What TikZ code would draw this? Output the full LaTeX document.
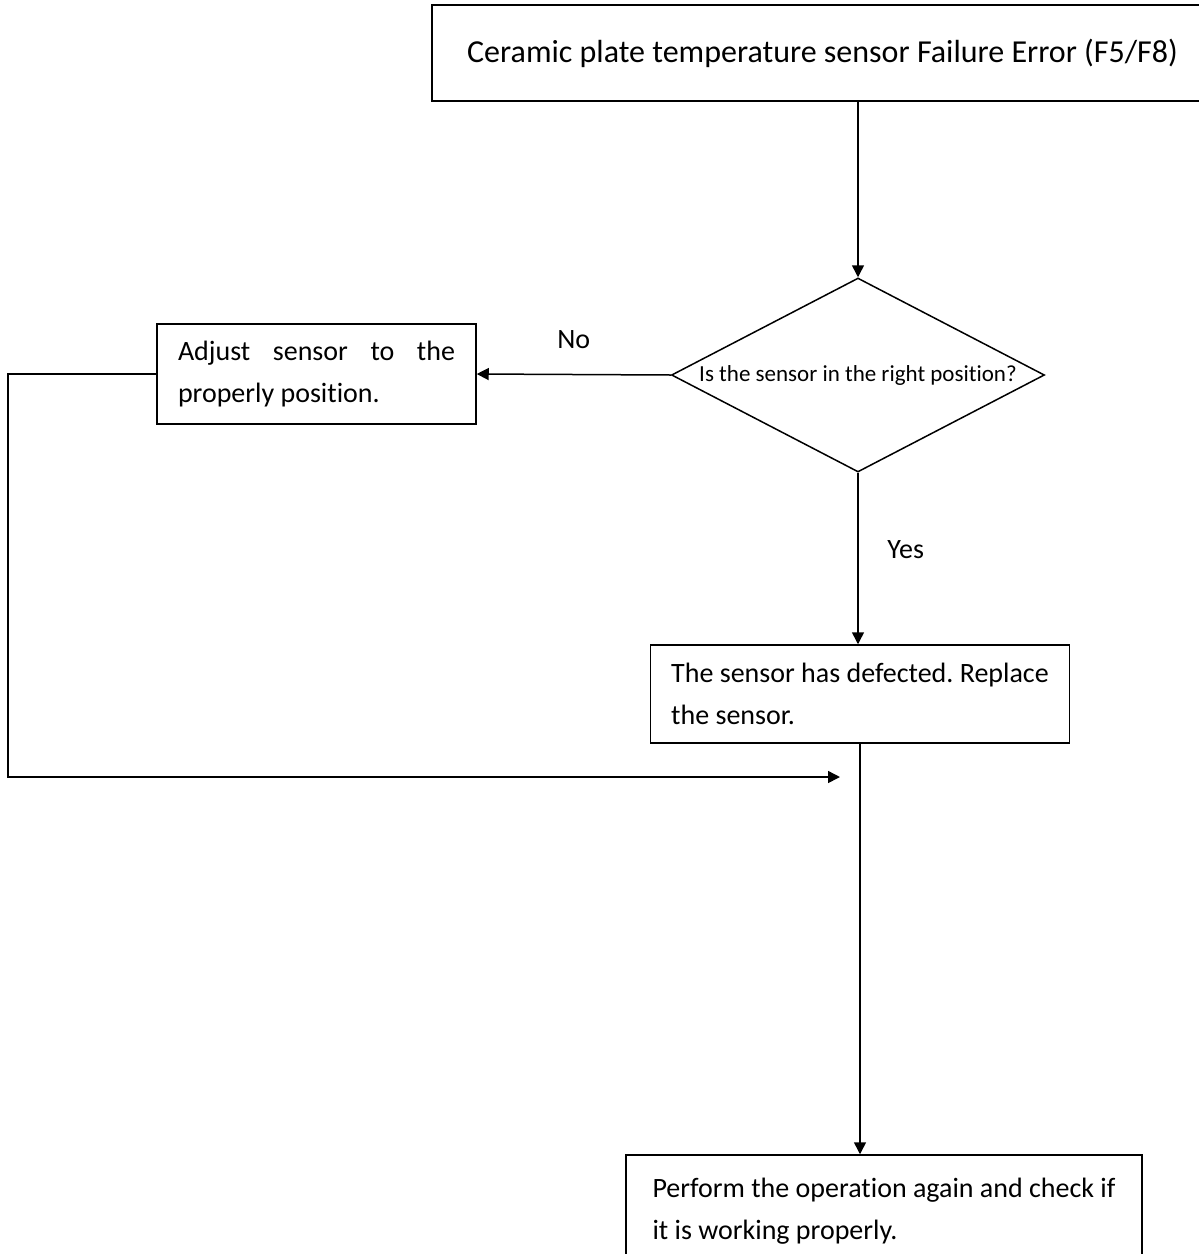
\documentclass[tikz,border=0pt]{standalone}
\usepackage{fontspec}
\setmainfont{Carlito}[RawFeature={-liga;-clig;-calt;-dlig}]
\usetikzlibrary{arrows.meta,positioning,shapes.geometric}
\hyphenpenalty=10000
\exhyphenpenalty=10000
\frenchspacing

\begin{document}
\begin{tikzpicture}[
  x=0.5pt, y=-0.5pt,
  line width=0.75pt,
  errbox/.style={rectangle, draw, inner sep=0pt, minimum width=390.5pt, minimum height=48pt, font=\fontsize{16}{19}\selectfont},
  actbox/.style={rectangle, draw, inner sep=0pt, align=left, font=\fontsize{14}{21}\selectfont},
  decision/.style={diamond, draw, inner sep=0pt, aspect=1.92, minimum width=186.5pt, minimum height=97pt, font=\fontsize{11.5}{13}\selectfont},
  arrow/.style={-{Triangle[length=6pt,width=6pt]}},
  lbl/.style={font=\fontsize{14}{16}\selectfont}
]
\useasboundingbox (0,0) rectangle (1199,1254);

% boxes
\node[errbox] (err) at (822.5,53) {Ceramic plate temperature sensor Failure Error (F5/F8)};
\node[decision] (pos) at (858,375) {Is the sensor in the right position?};
\node[actbox, minimum width=159.5pt, minimum height=50pt, text width=138.5pt, align=justify] (adj) at (316.5,374) {Adjust sensor to the properly position.};
\node[actbox, minimum width=209.5pt, minimum height=49pt] (rep) at (860,694) {The sensor has defected. Replace\\the sensor.};
\node[actbox, minimum width=258pt, minimum height=56pt] (chk) at (884,1211) {Perform the operation again and check if\\it is working properly.};
\coordinate (lft) at (8,374);
\coordinate (back) at (840,777);

% arrows
\draw[arrow] (pos.north |- err.south) -- (pos.north);
\draw[arrow] (pos.west) -- node[lbl, above=9pt] {No} (adj.east);
\draw[arrow] (pos.south) -- node[lbl, right=11pt, pos=0.45] {Yes} (pos.south |- rep.north);
\draw[arrow] (rep.south) -- (rep.south |- chk.north);
\draw[arrow] (adj.west) -- (lft) |- (back);

\end{tikzpicture}
\end{document}
